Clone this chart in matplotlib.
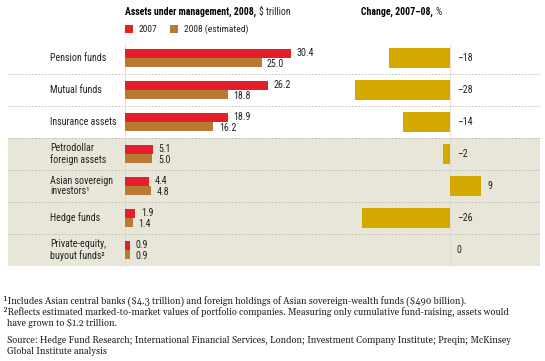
import matplotlib
matplotlib.use("Agg")
import matplotlib.pyplot as plt
from matplotlib import font_manager
from matplotlib.patches import Rectangle

categories = ["Pension funds", "Mutual funds", "Insurance assets",
              "Petrodollar\nforeign assets", "Asian sovereign\ninvestors¹",
              "Hedge funds", "Private-equity,\nbuyout funds²"]
assets_2007 = [30.4, 26.2, 18.9, 5.1, 4.4, 1.9, 0.9]
assets_2008 = [25.0, 18.8, 16.2, 5.0, 4.8, 1.4, 0.9]
change_pct = [-18, -28, -14, -2, 9, -26, 0]
legend_labels = ["2007", "2008 (estimated)"]

names = {f.name for f in font_manager.fontManager.ttflist}
def pick(prefs):
    for p in prefs:
        if p in names:
            return p
    return prefs[-1]
SANS = pick(["Roboto Condensed", "Archivo Narrow", "PT Sans Narrow", "Liberation Sans Narrow", "Liberation Sans"])
SERIF = pick(["Gelasio", "Georgia", "Liberation Serif"])

RED = "#E41E2B"
BROWN = "#B87A35"
GOLD = "#D4A900"
BG = "#E8E6D8"
GRID = "#B8B8B0"
TXT = "#222222"

W, H = 545, 361
fig = plt.figure(figsize=(W / 100, H / 100), dpi=100)
fig.patch.set_facecolor("white")

def frac(x0, y0, x1, y1):
    return [x0 / W, 1 - y1 / H, (x1 - x0) / W, (y1 - y0) / H]

bg = fig.add_axes([0, 0, 1, 1])
bg.set_xlim(0, W)
bg.set_ylim(H, 0)
bg.axis("off")

top, row_h = 42, 32
n = len(categories)
bg.add_patch(Rectangle((8, top + 3 * row_h), 532, 4 * row_h, facecolor=BG, edgecolor="none", zorder=0))
for i in range(1, n):
    y = top + i * row_h
    bg.plot([8, 540], [y, y], color=GRID, lw=0.6, ls=(0, (2, 2)), zorder=1)
bg.plot([125, 125], [42, 266], color="#D8D8D0", lw=0.5, zorder=1)
bg.plot([450, 450], [45, 266], color="#D8D8D0", lw=0.5, zorder=1)

TFS = 7.0
t = bg.text(125, 12, "Assets under management, 2008,", fontsize=TFS, fontweight="bold",
            family=SANS, color="black", va="center", ha="left")
fig.canvas.draw()
bb = t.get_window_extent()
bg.text(125 + bb.width + 3, 12, "\\$ trillion", fontsize=TFS, family=SANS, color=TXT, va="center", ha="left")
t2 = bg.text(361, 12, "Change, 2007–08,", fontsize=TFS, fontweight="bold",
             family=SANS, color="black", va="center", ha="left")
bb2 = t2.get_window_extent()
bg.text(361 + bb2.width + 3, 12, "%", fontsize=TFS, family=SANS, color=TXT, va="center", ha="left")

LFS = 6.8
bg.add_patch(Rectangle((125, 25), 8, 8, facecolor=RED, edgecolor="none"))
bg.text(139, 29.5, legend_labels[0], fontsize=LFS, family=SANS, color=TXT, va="center")
bg.add_patch(Rectangle((170, 25), 8, 8, facecolor=BROWN, edgecolor="none"))
bg.text(184, 29.5, legend_labels[1], fontsize=LFS, family=SANS, color=TXT, va="center")

FS = 7.2
for i, c in enumerate(categories):
    bg.text(50, top + row_h * i + row_h / 2, c, fontsize=FS, family=SANS, color=TXT,
            va="center", ha="left", linespacing=1.1)

scale_l = 5.46
axL = fig.add_axes(frac(125, top, 125 + 40 * scale_l, top + n * row_h))
axL.set_xlim(0, 40)
axL.set_ylim(n - 0.5, -0.5)
axL.axis("off")
axL.patch.set_alpha(0)
ys = list(range(n))
bh = 0.28
axL.barh([y - 0.145 for y in ys], assets_2007, height=bh, color=RED, edgecolor="none")
axL.barh([y + 0.145 for y in ys], assets_2008, height=bh, color=BROWN, edgecolor="none")
for y, a, b in zip(ys, assets_2007, assets_2008):
    axL.annotate(f"{a:.1f}", (a, y - 0.17), xytext=(4, 0), textcoords="offset points",
                 fontsize=FS, family=SANS, color=TXT, va="center", ha="left")
    axL.annotate(f"{b:.1f}", (b, y + 0.2), xytext=(4, 0), textcoords="offset points",
                 fontsize=FS, family=SANS, color=TXT, va="center", ha="left")

scale_r = 3.39
x0, x1 = 340, 540
axR = fig.add_axes(frac(x0, top, x1, top + n * row_h))
axR.set_xlim(-(450 - x0) / scale_r, (x1 - 450) / scale_r)
axR.set_ylim(n - 0.5, -0.5)
axR.axis("off")
axR.patch.set_alpha(0)
axR.barh(ys, change_pct, height=0.6, color=GOLD, edgecolor="none")
for y, v in zip(ys, change_pct):
    lab = f"–{abs(v)}" if v < 0 else f"{v}"
    axR.annotate(lab, (max(v, 0), y), xytext=(5, 0), textcoords="offset points",
                 fontsize=FS, family=SANS, color=TXT, va="center", ha="left")

fs = 6.65
bg.text(3, 301, "¹Includes Asian central banks (\\$4.3 trillion) and foreign holdings of Asian sovereign-wealth funds (\\$490 billion).",
        fontsize=fs, family=SERIF, color=TXT, va="center")
bg.text(3, 312, "²Reflects estimated marked-to-market values of portfolio companies. Measuring only cumulative fund-raising, assets would",
        fontsize=fs, family=SERIF, color=TXT, va="center")
bg.text(7, 323, "have grown to \\$1.2 trillion.", fontsize=fs, family=SERIF, color=TXT, va="center")
bg.text(7, 340, "Source: Hedge Fund Research; International Financial Services, London; Investment Company Institute; Preqin; McKinsey",
        fontsize=fs, family=SERIF, color=TXT, va="center")
bg.text(7, 351, "Global Institute analysis", fontsize=fs, family=SERIF, color=TXT, va="center")

fig.savefig("out.png", dpi=100, facecolor="white")
